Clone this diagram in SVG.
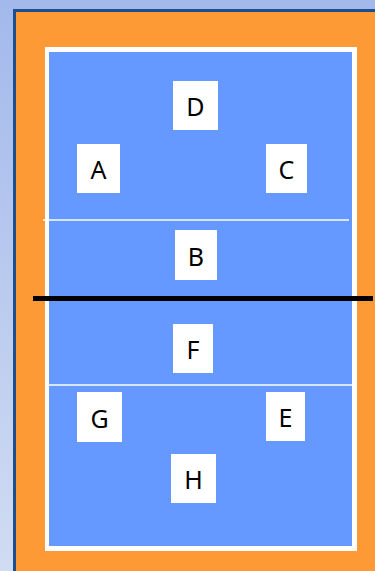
<svg xmlns="http://www.w3.org/2000/svg" width="375" height="571" viewBox="0 0 375 571">
<defs>
<linearGradient id="bg" x1="0" y1="0" x2="0" y2="1">
<stop offset="0" stop-color="#a3b9ec"/>
<stop offset="1" stop-color="#d0dcf2"/>
</linearGradient>
<style>
.box{fill:#ffffff}
.lbl{font-family:"Noto Sans","Open Sans",sans-serif;font-size:25px;fill:#000000;text-anchor:middle;dominant-baseline:central}
</style>
</defs>
<rect x="0" y="0" width="375" height="571" fill="url(#bg)"/>
<rect x="13" y="9" width="362" height="562" fill="#1f4e8c"/>
<rect x="16" y="12" width="359" height="559" fill="#fd9a35"/>
<rect x="45" y="47" width="312" height="504" fill="#ffffff"/>
<rect x="49" y="52" width="303" height="494" fill="#6699ff"/>
<g id="connectors">
<line x1="43" y1="220" x2="349" y2="220" stroke="#ffffff" stroke-width="1.5"/>
<line x1="49" y1="385" x2="352" y2="385" stroke="#ffffff" stroke-width="1.5"/>
<line x1="33" y1="298.5" x2="373" y2="298.5" stroke="#000000" stroke-width="5"/>
</g>
<g id="D"><rect class="box" x="173" y="81" width="45" height="49"/><text class="lbl" x="195.5" y="106">D</text></g>
<g id="A"><rect class="box" x="77" y="144" width="43" height="49"/><text class="lbl" x="98.5" y="169">A</text></g>
<g id="C"><rect class="box" x="266" y="144" width="41" height="49"/><text class="lbl" x="286.5" y="169">C</text></g>
<g id="B"><rect class="box" x="175" y="230" width="42" height="50"/><text class="lbl" x="196" y="255.5">B</text></g>
<g id="F"><rect class="box" x="173" y="324" width="40" height="49"/><text class="lbl" x="193" y="349">F</text></g>
<g id="G"><rect class="box" x="77" y="392" width="45" height="50"/><text class="lbl" x="99.5" y="417.5">G</text></g>
<g id="E"><rect class="box" x="266" y="392" width="39" height="49"/><text class="lbl" x="285.5" y="417">E</text></g>
<g id="H"><rect class="box" x="171" y="454" width="45" height="49"/><text class="lbl" x="193.5" y="479">H</text></g>
</svg>
